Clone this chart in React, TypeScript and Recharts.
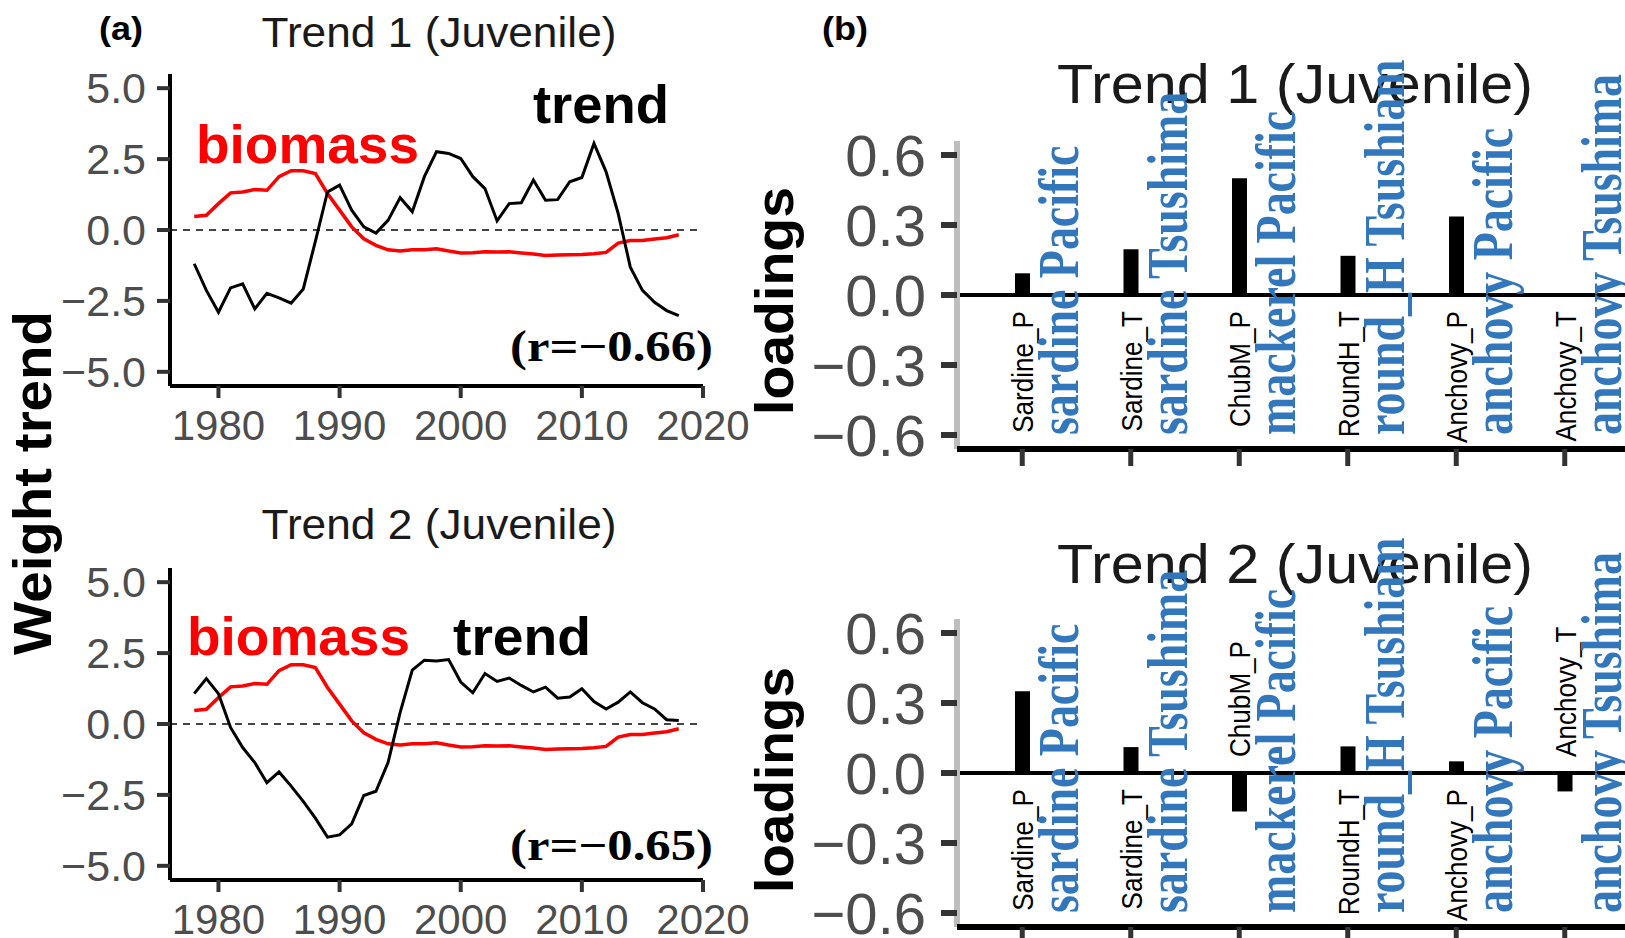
import {
  LineChart,
  Line,
  BarChart,
  Bar,
  XAxis,
  YAxis,
  ReferenceLine,
} from "recharts";

const years = [
  1978, 1979, 1980, 1981, 1982, 1983, 1984, 1985, 1986, 1987,
  1988, 1989, 1990, 1991, 1992, 1993, 1994, 1995, 1996, 1997,
  1998, 1999, 2000, 2001, 2002, 2003, 2004, 2005, 2006, 2007,
  2008, 2009, 2010, 2011, 2012, 2013, 2014, 2015, 2016, 2017,
  2018,
];

const biomass = [
  0.48, 0.52, 0.93, 1.31, 1.34, 1.43, 1.4, 1.88, 2.09, 2.09,
  1.99, 1.29, 0.7, 0.11, -0.31, -0.54, -0.7, -0.74, -0.7, -0.7,
  -0.66, -0.74, -0.81, -0.8, -0.77, -0.78, -0.77, -0.81, -0.85, -0.9,
  -0.88, -0.87, -0.86, -0.84, -0.79, -0.46, -0.37, -0.37, -0.32, -0.27,
  -0.17,
];

const trend1 = [
  -1.19, -2.13, -2.9, -2.04, -1.9, -2.78, -2.23, -2.39, -2.58, -2.08,
  -0.4, 1.34, 1.58, 0.7, 0.11, -0.11, 0.34, 1.14, 0.64, 1.88,
  2.76, 2.7, 2.52, 1.88, 1.46, 0.32, 0.93, 0.96, 1.76, 1.05,
  1.07, 1.7, 1.85, 3.05, 2.05, 0.58, -1.31, -2.13, -2.55, -2.84,
  -3.02,
];

const trend2 = [
  1.07, 1.6, 1.07, -0.12, -0.83, -1.36, -2.07, -1.69, -2.19, -2.73,
  -3.32, -3.99, -3.91, -3.52, -2.52, -2.37, -1.36, 0.41, 1.9, 2.25,
  2.22, 2.27, 1.48, 1.1, 1.78, 1.5, 1.62, 1.36, 1.13, 1.3,
  0.91, 0.95, 1.24, 0.79, 0.53, 0.77, 1.13, 0.75, 0.53, 0.15,
  0.12,
];

const yearTicks = [1980, 1990, 2000, 2010, 2020];
const trendTicks = [-5, -2.5, 0, 2.5, 5];

const stockCodes = ["Sardine_P", "Sardine_T", "ChubM_P", "RoundH_T", "Anchovy_P", "Anchovy_T"];
const stockNames = [
  "sardine Pacific",
  "sardine Tsushima",
  "mackerel Pacific",
  "round_H Tsushiam",
  "anchovy Pacific",
  "anchovy Tsushima",
];
const loadings1 = [0.093, 0.196, 0.5, 0.168, 0.336, 0.0];
const loadings2 = [0.35, 0.111, -0.165, 0.114, 0.05, -0.079];
const loadingTicks = [-0.6, -0.3, 0, 0.3, 0.6];

const SANS = "'Liberation Sans', Arial, Helvetica, sans-serif";
const SERIF = "'Liberation Serif', 'Times New Roman', serif";
const LOAD_MAX = 0.66;

const fmt = (v: number, d: number) => (v < 0 ? "\u2212" : "") + Math.abs(v).toFixed(d);

const trendData = (series: number[]) =>
  years.map((y, i) => ({ year: y, biomass: biomass[i], trend: series[i] }));

const loadingData = (vals: number[]) =>
  stockCodes.map((c, i) => ({ code: c, name: stockNames[i], value: vals[i] }));

type LineProps = { top: number; height: number; marginTop: number; series: number[] };

const TrendPanel = ({ top, height, marginTop, series }: LineProps) => (
  <div style={{ position: "absolute", left: 0, top, width: 760, height }}>
    <LineChart
      width={760}
      height={height}
      data={trendData(series)}
      margin={{ top: marginTop, right: 57, left: 0, bottom: height - marginTop - 312 - 60 }}
    >
      <XAxis
        type="number"
        dataKey="year"
        domain={[1976, 2020]}
        ticks={yearTicks}
        interval={0}
        allowDataOverflow
        height={60}
        axisLine={{ stroke: "#000", strokeWidth: 4 }}
        tickLine={{ stroke: "#333", strokeWidth: 4 }}
        tickSize={12}
        tickMargin={12}
        tick={{ fill: "#4d4d4d", fontSize: 42, fontFamily: SANS }}
      />
      <YAxis
        type="number"
        domain={[-5.5, 5.5]}
        ticks={trendTicks}
        interval={0}
        allowDataOverflow
        width={170}
        axisLine={{ stroke: "#000", strokeWidth: 4 }}
        tickLine={{ stroke: "#333", strokeWidth: 4 }}
        tickSize={13}
        tickMargin={11}
        tickFormatter={(v: number) => fmt(v, 1)}
        tick={{ fill: "#4d4d4d", fontSize: 43, fontFamily: SANS }}
      />
      <ReferenceLine y={0} stroke="#444" strokeWidth={2} strokeDasharray="7 6" />
      <Line type="linear" dataKey="biomass" stroke="#ff0000" strokeWidth={3.5} dot={false} isAnimationActive={false} />
      <Line type="linear" dataKey="trend" stroke="#000" strokeWidth={3} dot={false} isAnimationActive={false} />
    </LineChart>
  </div>
);

type BarProps = { top: number; height: number; marginTop: number; values: number[] };

const PLOT_H = 308;

const LoadingPanel = ({ top, height, marginTop, values }: BarProps) => {
  const zeroY = marginTop + PLOT_H / 2;
  const bottomY = marginTop + PLOT_H;
  const StockTick = (props: any) => {
    const { x, payload } = props;
    const i = stockCodes.indexOf(payload.value);
    const v = values[i];
    const codeY = v >= 0 ? zeroY + 16 : zeroY - 16;
    const bx = x + 11;
    const nx = x + 56;
    const ny = bottomY - 14;
    return (
      <g>
        <text
          transform={`translate(${bx} ${codeY}) rotate(-90) scale(0.87 1)`}
          textAnchor={v >= 0 ? "end" : "start"}
          fontFamily={SANS}
          fontSize={30}
          fill="#000"
        >
          {payload.value}
        </text>
        <text
          transform={`translate(${nx} ${ny}) rotate(-90) scale(0.82 1)`}
          textAnchor="start"
          fontFamily={SERIF}
          fontWeight="bold"
          fontSize={56}
          fill="#3277bc"
        >
          {stockNames[i]}
        </text>
      </g>
    );
  };
  return (
    <div style={{ position: "absolute", left: 760, top, width: 880, height }}>
      <BarChart
        width={880}
        height={height}
        data={loadingData(values)}
        margin={{ top: marginTop, right: 10, left: 0, bottom: 0 }}
      >
        <YAxis
          type="number"
          domain={[-LOAD_MAX, LOAD_MAX]}
          ticks={loadingTicks}
          interval={0}
          allowDataOverflow
          width={197}
          axisLine={{ stroke: "#bdbdbd", strokeWidth: 6 }}
          tickLine={{ stroke: "#333", strokeWidth: 6 }}
          tickSize={16}
          tickMargin={15}
          tickFormatter={(v: number) => fmt(v, 1)}
          tick={{ fill: "#4d4d4d", fontSize: 58, fontFamily: SANS }}
        />
        <ReferenceLine y={0} stroke="#000" strokeWidth={4} />
        <Bar dataKey="value" fill="#000" barSize={15} isAnimationActive={false} />
        <XAxis
          type="category"
          dataKey="code"
          padding={{ left: 11, right: 11 }}
          height={height - marginTop - PLOT_H}
          axisLine={{ stroke: "#000", strokeWidth: 6 }}
          tickLine={{ stroke: "#333", strokeWidth: 5 }}
          tickSize={17}
          interval={0}
          tick={<StockTick />}
        />
      </BarChart>
    </div>
  );
};

export default function App() {
  return (
    <div
      style={{
        position: "absolute",
        left: 0,
        top: 0,
        width: 1625,
        height: 938,
        overflow: "hidden",
        background: "#fff",
      }}
    >
      <svg width={1625} height={938} style={{ position: "absolute", left: 0, top: 0 }}>
        <g fontFamily={SANS}>
          <text x={121} y={40} textAnchor="middle" fontWeight="bold" fontSize={33} fill="#000" textLength={44} lengthAdjust="spacingAndGlyphs">(a)</text>
          <text x={845} y={40} textAnchor="middle" fontWeight="bold" fontSize={33} fill="#000" textLength={46} lengthAdjust="spacingAndGlyphs">(b)</text>
          <text x={439} y={47} textAnchor="middle" fontSize={42} fill="#1a1a1a" textLength={355} lengthAdjust="spacingAndGlyphs">Trend 1 (Juvenile)</text>
          <text x={439} y={539} textAnchor="middle" fontSize={42} fill="#1a1a1a" textLength={355} lengthAdjust="spacingAndGlyphs">Trend 2 (Juvenile)</text>
          <text x={1295} y={103} textAnchor="middle" fontSize={56} fill="#1a1a1a" textLength={476} lengthAdjust="spacingAndGlyphs">Trend 1 (Juvenile)</text>
          <text x={1295} y={583} textAnchor="middle" fontSize={56} fill="#1a1a1a" textLength={476} lengthAdjust="spacingAndGlyphs">Trend 2 (Juvenile)</text>
          <text x={51} y={483} transform="rotate(-90 51 483)" textAnchor="middle" fontWeight="bold" fontSize={54} fill="#000" textLength={344} lengthAdjust="spacingAndGlyphs">Weight trend</text>
          <text x={793} y={301} transform="rotate(-90 793 301)" textAnchor="middle" fontWeight="bold" fontSize={54} fill="#000" textLength={228} lengthAdjust="spacingAndGlyphs">loadings</text>
          <text x={793} y={780} transform="rotate(-90 793 780)" textAnchor="middle" fontWeight="bold" fontSize={54} fill="#000" textLength={226} lengthAdjust="spacingAndGlyphs">loadings</text>
          <text x={196} y={163} fontWeight="bold" fontSize={54} fill="#ff0000" textLength={223} lengthAdjust="spacingAndGlyphs">biomass</text>
          <text x={533} y={123} fontWeight="bold" fontSize={54} fill="#000" textLength={136} lengthAdjust="spacingAndGlyphs">trend</text>
          <text x={187} y={655} fontWeight="bold" fontSize={54} fill="#ff0000" textLength={223} lengthAdjust="spacingAndGlyphs">biomass</text>
          <text x={453} y={655} fontWeight="bold" fontSize={54} fill="#000" textLength={138} lengthAdjust="spacingAndGlyphs">trend</text>
        </g>
        <g fontFamily={SERIF} fontWeight="bold" fontSize={44} fill="#000">
          <text x={510} y={361} textLength={203} lengthAdjust="spacingAndGlyphs">(r={"\u2212"}0.66)</text>
          <text x={510} y={860} textLength={203} lengthAdjust="spacingAndGlyphs">(r={"\u2212"}0.65)</text>
        </g>
      </svg>
      <TrendPanel top={0} height={460} marginTop={74} series={trend1} />
      <TrendPanel top={470} height={468} marginTop={98} series={trend2} />
      <LoadingPanel top={0} height={470} marginTop={141} values={loadings1} />
      <LoadingPanel top={470} height={468} marginTop={149} values={loadings2} />
    </div>
  );
}
